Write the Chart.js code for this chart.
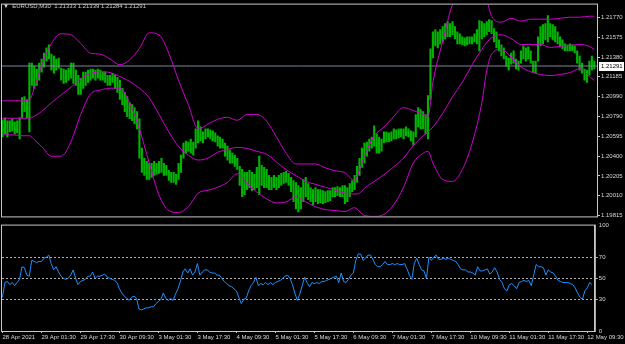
<!DOCTYPE html>
<html>
<head>
<meta charset="utf-8">
<script src="https://cdn.jsdelivr.net/npm/chart.js@4.4.0/dist/chart.umd.min.js"></script>
<style>
  html, body { margin: 0; padding: 0; background: #000; }
  #wrap { position: relative; width: 625px; height: 344px; background: #000; overflow: hidden; }
  #price { position: absolute; left: 0; top: 0; }
  #rsiChart { position: absolute; left: 0; top: 221px; }
  #caption { position: absolute; left: 3px; top: 3px; color: #d0d0d0; font: 6px "Liberation Sans", sans-serif; white-space: pre; }
</style>
</head>
<body>
<div id="wrap">
  <canvas id="price" width="625" height="221"></canvas>
  <canvas id="rsiChart" width="625" height="123"></canvas>
  <div id="caption">▼  EURUSD,M30  1.21333 1.21339 1.21284 1.21291</div>
</div>
<script>
// x axis: one entry per hour, a label every 16 hours
const timeLabels = ['28 Apr 2021', '29 Apr 01:30', '29 Apr 17:30', '30 Apr 09:30', '3 May 01:30', '3 May 17:30',
  '4 May 09:30', '5 May 01:30', '5 May 17:30', '6 May 09:30', '7 May 01:30', '7 May 17:30',
  '10 May 09:30', '11 May 01:30', '11 May 17:30', '12 May 09:30'];
const priceTicks = [1.19815, 1.20010, 1.20205, 1.20400, 1.20595, 1.20790, 1.20990, 1.21185, 1.21380, 1.21575, 1.21770];
const rsiTicks = [0, 30, 50, 70, 100];
const rsiLevels = [30, 50, 70];
const lastPrice = 1.21291;

const highs = [
  1.2076, 1.2078, 1.2075, 1.2075, 1.2077, 1.2074, 1.2075, 1.2078, 1.2098, 1.2099,
  1.2096, 1.2132, 1.2132, 1.2129, 1.2126, 1.2132, 1.2136, 1.2142, 1.2147, 1.2150,
  1.2141, 1.2139, 1.2136, 1.2137, 1.2127, 1.2126, 1.2125, 1.2127, 1.2132, 1.2132,
  1.2125, 1.2120, 1.2117, 1.2123, 1.2123, 1.2125, 1.2126, 1.2126, 1.2125, 1.2126,
  1.2125, 1.2123, 1.2123, 1.2120, 1.2120, 1.2122, 1.2120, 1.2118, 1.2115, 1.2107,
  1.2103, 1.2099, 1.2093, 1.2091, 1.2088, 1.2084, 1.2077, 1.2048, 1.2038, 1.2035,
  1.2033, 1.2033, 1.2035, 1.2033, 1.2035, 1.2038, 1.2033, 1.2031, 1.2026, 1.2024,
  1.2024, 1.2022, 1.2033, 1.2041, 1.2053, 1.2055, 1.2054, 1.2057, 1.2054, 1.2067,
  1.2075, 1.2069, 1.2064, 1.2067, 1.2067, 1.2066, 1.2065, 1.2063, 1.2060, 1.2059,
  1.2057, 1.2053, 1.2050, 1.2046, 1.2043, 1.2041, 1.2038, 1.2030, 1.2027, 1.2024,
  1.2024, 1.2026, 1.2024, 1.2022, 1.2029, 1.2040, 1.2031, 1.2029, 1.2027, 1.2021,
  1.2019, 1.2021, 1.2019, 1.2021, 1.2023, 1.2024, 1.2025, 1.2023, 1.2019, 1.2016,
  1.2014, 1.2011, 1.2009, 1.2017, 1.2019, 1.2013, 1.2009, 1.2007, 1.2009, 1.2007,
  1.2007, 1.2006, 1.2005, 1.2006, 1.2006, 1.2009, 1.2009, 1.2010, 1.2009, 1.2011,
  1.2011, 1.2009, 1.2013, 1.2016, 1.2021, 1.2030, 1.2038, 1.2048, 1.2053, 1.2054,
  1.2057, 1.2059, 1.2070, 1.2062, 1.2059, 1.2057, 1.2064, 1.2064, 1.2063, 1.2064,
  1.2067, 1.2066, 1.2067, 1.2067, 1.2067, 1.2069, 1.2067, 1.2065, 1.2064, 1.2081,
  1.2088, 1.2086, 1.2084, 1.2081, 1.2100, 1.2146, 1.2163, 1.2165, 1.2163, 1.2165,
  1.2168, 1.2171, 1.2173, 1.2171, 1.2173, 1.2168, 1.2163, 1.2161, 1.2158, 1.2157,
  1.2158, 1.2158, 1.2158, 1.2161, 1.2165, 1.2174, 1.2173, 1.2171, 1.2173, 1.2175,
  1.2174, 1.2166, 1.2163, 1.2155, 1.2150, 1.2147, 1.2139, 1.2137, 1.2142, 1.2144,
  1.2136, 1.2134, 1.2144, 1.2149, 1.2147, 1.2148, 1.2144, 1.2134, 1.2134, 1.2158,
  1.2168, 1.2170, 1.2171, 1.2179, 1.2171, 1.2170, 1.2168, 1.2163, 1.2158, 1.2155,
  1.2151, 1.2150, 1.2151, 1.2150, 1.2149, 1.2144, 1.2139, 1.2132, 1.2126, 1.2125,
  1.2134, 1.2139, 1.2134
];
const lows = [
  1.2059, 1.2062, 1.2059, 1.2064, 1.2065, 1.2062, 1.2063, 1.2057, 1.2078, 1.2084,
  1.2078, 1.2064, 1.2110, 1.2107, 1.2110, 1.2115, 1.2123, 1.2128, 1.2134, 1.2136,
  1.2125, 1.2122, 1.2125, 1.2127, 1.2115, 1.2112, 1.2113, 1.2115, 1.2117, 1.2112,
  1.2110, 1.2101, 1.2101, 1.2107, 1.2110, 1.2113, 1.2115, 1.2117, 1.2115, 1.2117,
  1.2115, 1.2115, 1.2113, 1.2110, 1.2110, 1.2113, 1.2107, 1.2103, 1.2096, 1.2091,
  1.2084, 1.2079, 1.2077, 1.2075, 1.2072, 1.2067, 1.2038, 1.2024, 1.2021, 1.2017,
  1.2017, 1.2019, 1.2021, 1.2022, 1.2023, 1.2024, 1.2021, 1.2021, 1.2016, 1.2014,
  1.2014, 1.2012, 1.2017, 1.2024, 1.2038, 1.2043, 1.2045, 1.2043, 1.2041, 1.2048,
  1.2053, 1.2055, 1.2053, 1.2057, 1.2059, 1.2057, 1.2055, 1.2054, 1.2050, 1.2048,
  1.2048, 1.2040, 1.2036, 1.2033, 1.2033, 1.2030, 1.2027, 1.2011, 1.2000, 1.2002,
  1.2007, 1.2009, 1.2006, 1.2007, 1.2009, 1.2002, 1.2011, 1.2009, 1.2009, 1.2007,
  1.2007, 1.2009, 1.2007, 1.2009, 1.2011, 1.2013, 1.2014, 1.2011, 1.2005, 1.1995,
  1.1988, 1.1985, 1.1988, 1.1995, 1.2000, 1.1997, 1.1995, 1.1992, 1.1995, 1.1993,
  1.1994, 1.1993, 1.1994, 1.1995, 1.1996, 1.2000, 1.2000, 1.2001, 1.2000, 1.2000,
  1.1993, 1.1995, 1.2000, 1.2005, 1.2007, 1.2014, 1.2021, 1.2029, 1.2033, 1.2040,
  1.2045, 1.2048, 1.2050, 1.2043, 1.2043, 1.2045, 1.2053, 1.2054, 1.2054, 1.2055,
  1.2057, 1.2057, 1.2058, 1.2059, 1.2057, 1.2060, 1.2059, 1.2055, 1.2051, 1.2059,
  1.2069, 1.2067, 1.2067, 1.2062, 1.2057, 1.2096, 1.2137, 1.2149, 1.2147, 1.2151,
  1.2153, 1.2156, 1.2158, 1.2158, 1.2160, 1.2156, 1.2151, 1.2151, 1.2150, 1.2149,
  1.2150, 1.2151, 1.2151, 1.2153, 1.2151, 1.2144, 1.2156, 1.2158, 1.2160, 1.2163,
  1.2161, 1.2153, 1.2147, 1.2144, 1.2139, 1.2136, 1.2129, 1.2125, 1.2131, 1.2132,
  1.2126, 1.2125, 1.2132, 1.2136, 1.2134, 1.2136, 1.2132, 1.2123, 1.2122, 1.2134,
  1.2149, 1.2151, 1.2155, 1.2153, 1.2158, 1.2155, 1.2153, 1.2151, 1.2148, 1.2146,
  1.2144, 1.2144, 1.2144, 1.2144, 1.2142, 1.2132, 1.2125, 1.2122, 1.2115, 1.2113,
  1.2120, 1.2125, 1.2126
];

// Bollinger bands, read every few hours
const bandHours = [0, 4, 8, 11, 13, 16, 20, 24, 28, 32, 36, 40, 44, 48, 52, 56, 60, 64, 68, 72,
  76, 80, 84, 88, 92, 96, 100, 104, 108, 112, 116, 120, 124, 128, 132, 136, 140, 144, 146, 148,
  152, 156, 160, 164, 168, 172, 174, 176, 180, 184, 188, 192, 196, 198, 200, 204, 208, 212, 216, 220,
  224, 228, 232, 236, 240, 242];
const upperBand = [1.20947, 1.20947, 1.20947, 1.20957, 1.21072, 1.21293, 1.21514, 1.21610, 1.21600, 1.21514,
  1.21418, 1.21408, 1.21360, 1.21303, 1.21351, 1.21466, 1.21619, 1.21600, 1.21418, 1.21149,
  1.20909, 1.20669, 1.20717, 1.20765, 1.20784, 1.20755, 1.20813, 1.20813, 1.20746, 1.20592,
  1.20429, 1.20323, 1.20323, 1.20323, 1.20285, 1.20256, 1.20237, 1.20160, 1.20266, 1.20400,
  1.20602, 1.20688, 1.20794, 1.20880, 1.20851, 1.20813, 1.20794, 1.21130, 1.21533, 1.21898,
  1.22032, 1.22080, 1.22032, 1.21946, 1.21783, 1.21725, 1.21763, 1.21735, 1.21754, 1.21754,
  1.21754, 1.21763, 1.21773, 1.21773, 1.21783, 1.21783];
const middleBand = [1.20775, 1.20775, 1.20775, 1.20775, 1.20794, 1.20842, 1.20928, 1.21005, 1.21082, 1.21168,
  1.21216, 1.21235, 1.21226, 1.21187, 1.21139, 1.21072, 1.20976, 1.20813, 1.20640, 1.20496,
  1.20410, 1.20362, 1.20381, 1.20439, 1.20467, 1.20487, 1.20477, 1.20448, 1.20419, 1.20343,
  1.20266, 1.20208, 1.20151, 1.20122, 1.20093, 1.20064, 1.20035, 1.20026, 1.20035, 1.20083,
  1.20151, 1.20218, 1.20295, 1.20381, 1.20506, 1.20602, 1.20640, 1.20688, 1.20823, 1.20986,
  1.21130, 1.21303, 1.21456, 1.21523, 1.21571, 1.21600, 1.21562, 1.21504, 1.21504, 1.21504,
  1.21475, 1.21485, 1.21495, 1.21504, 1.21485, 1.21456];
const lowerBand = [1.20611, 1.20611, 1.20602, 1.20602, 1.20563, 1.20496, 1.20400, 1.20400, 1.20544, 1.20813,
  1.21015, 1.21053, 1.21072, 1.21072, 1.20928, 1.20669, 1.20333, 1.20016, 1.19863, 1.19843,
  1.19901, 1.20035, 1.20064, 1.20093, 1.20141, 1.20227, 1.20131, 1.20045, 1.19978, 1.19939,
  1.19949, 1.19997, 1.19949, 1.19901, 1.19872, 1.19863, 1.19853, 1.19891, 1.19853, 1.19815,
  1.19805, 1.19824, 1.19920, 1.20093, 1.20333, 1.20429, 1.20448, 1.20333, 1.20170, 1.20151,
  1.20266, 1.20525, 1.20928, 1.21245, 1.21408, 1.21456, 1.21379, 1.21283, 1.21235, 1.21207,
  1.21197, 1.21207, 1.21226, 1.21264, 1.21187, 1.21149];

const rsi = [
  32, 46, 47, 44, 46, 43, 46, 49, 61, 60,
  53, 52, 67, 66, 65, 66, 66, 69, 70, 72,
  64, 58, 61, 56, 52, 50, 49, 50, 53, 58,
  50, 44, 47, 48, 49, 52, 52, 56, 50, 52,
  52, 53, 54, 51, 50, 49, 48, 46, 40, 36,
  33, 31, 29, 32, 33, 31, 21, 20, 21, 22,
  22, 23, 23, 26, 28, 30, 36, 31, 29, 31,
  29, 35, 40, 47, 56, 59, 55, 59, 53, 56,
  64, 53, 56, 58, 58, 56, 55, 55, 53, 53,
  50, 47, 45, 43, 42, 40, 38, 32, 26, 30,
  31, 38, 43, 46, 51, 43, 45, 44, 46, 44,
  46, 44, 46, 47, 48, 50, 52, 53, 50, 44,
  36, 29, 35, 43, 51, 46, 42, 46, 45, 46,
  45, 47, 47, 48, 49, 50, 51, 52, 46, 55,
  47, 46, 49, 53, 55, 67, 73, 73, 67, 69,
  72, 72, 68, 63, 61, 61, 63, 66, 63, 63,
  64, 63, 64, 63, 63, 64, 59, 53, 49, 64,
  69, 63, 58, 57, 50, 70, 67, 70, 72, 68,
  68, 69, 68, 69, 68, 67, 66, 63, 59, 58,
  58, 56, 56, 55, 53, 61, 57, 57, 58, 59,
  54, 56, 60, 56, 49, 46, 40, 38, 44, 45,
  43, 40, 46, 47, 48, 47, 48, 43, 53, 63,
  61, 61, 60, 53, 58, 56, 55, 52, 48, 47,
  46, 46, 46, 45, 44, 41, 36, 32, 30, 38,
  41, 46, 44
];

const FONT = { family: '"Liberation Sans", sans-serif', size: 6 };
const AXIS = '#c8c8c8';
const TEXT = '#d8d8d8';
const BAND = '#d000d0';
const X_MIN = -0.2;
const X_MAX = 243.1;

// gray frame round each panel, as in the terminal
const framePlugin = {
    id: 'frame',
    afterDraw(chart) {
        const { ctx, chartArea: a } = chart;
        ctx.save();
        ctx.strokeStyle = AXIS;
        ctx.lineWidth = 1;
        ctx.strokeRect(a.left - 0.5, a.top - 0.5, a.right - a.left + 1, a.bottom - a.top + 1);
        ctx.restore();
    }
};

// white box with the last price on the axis
const priceTagPlugin = {
    id: 'priceTag',
    afterDraw(chart) {
        const { ctx, chartArea: a } = chart;
        const y = Math.round(chart.scales.y.getPixelForValue(lastPrice));
        ctx.save();
        ctx.fillStyle = '#ffffff';
        ctx.fillRect(a.right + 2, y - 4, chart.width - a.right - 3, 9);
        ctx.fillStyle = '#000000';
        ctx.font = FONT.size + 'px ' + FONT.family;
        ctx.textBaseline = 'middle';
        ctx.fillText(lastPrice.toFixed(5), a.right + 4, y + 0.5);
        ctx.restore();
    }
};

const bandLine = (values, label) => ({
    type: 'line',
    label: label,
    data: bandHours.map((h, i) => ({ x: h, y: values[i] })),
    borderColor: BAND,
    borderWidth: 1,
    pointRadius: 0,
    cubicInterpolationMode: 'monotone',
    order: 1
});

new Chart(document.getElementById('price'), {
    type: 'bar',
    data: {
        datasets: [
            bandLine(upperBand, 'Upper'),
            bandLine(middleBand, 'Middle'),
            bandLine(lowerBand, 'Lower'),
            {
                type: 'line',
                label: 'Last',
                data: [{ x: X_MIN, y: lastPrice }, { x: X_MAX, y: lastPrice }],
                borderColor: '#778899',
                borderWidth: 1,
                pointRadius: 0,
                order: 2
            },
            {
                type: 'bar',
                label: 'EURUSD',
                data: highs.map((h, i) => ({ x: i, y: [lows[i], h] })),
                backgroundColor: '#00b400',
                barThickness: 1.5,
                grouped: false,
                order: 3
            }
        ]
    },
    options: {
        responsive: false,
        animation: false,
        devicePixelRatio: 1,
        layout: { padding: { left: 2, top: 2, right: 0, bottom: 1 } },
        plugins: { legend: { display: false }, tooltip: { enabled: false } },
        scales: {
            x: { type: 'linear', min: X_MIN, max: X_MAX, offset: false, display: false },
            y: {
                position: 'right',
                min: 1.19805,
                max: 1.21898,
                afterBuildTicks: s => { s.ticks = priceTicks.map(v => ({ value: v })); },
                afterFit: s => { s.width = 28; },
                ticks: { color: TEXT, font: FONT, padding: 1, callback: v => v.toFixed(5) },
                grid: { drawOnChartArea: false, tickLength: 3, color: AXIS },
                border: { color: AXIS }
            }
        }
    },
    plugins: [framePlugin, priceTagPlugin]
});

new Chart(document.getElementById('rsiChart'), {
    type: 'line',
    data: {
        datasets: [{
            label: 'RSI',
            data: rsi.map((v, i) => ({ x: i, y: v })),
            borderColor: '#1e90ff',
            borderWidth: 1,
            pointRadius: 0
        }]
    },
    options: {
        responsive: false,
        animation: false,
        devicePixelRatio: 1,
        layout: { padding: { left: 2, top: 2, right: 0, bottom: 0 } },
        plugins: { legend: { display: false }, tooltip: { enabled: false } },
        scales: {
            x: {
                type: 'linear',
                min: X_MIN,
                max: X_MAX,
                afterBuildTicks: s => { s.ticks = timeLabels.map((_, i) => ({ value: i * 16 })); },
                afterFit: s => { s.height = 13; },
                ticks: {
                    color: TEXT, font: FONT, padding: 1, align: 'start',
                    autoSkip: false, maxRotation: 0,
                    callback: (v, i) => timeLabels[i]
                },
                grid: { drawOnChartArea: false, tickLength: 2, color: AXIS },
                border: { color: AXIS }
            },
            y: {
                position: 'right',
                min: 0,
                max: 100,
                afterBuildTicks: s => { s.ticks = rsiTicks.map(v => ({ value: v })); },
                afterFit: s => { s.width = 28; },
                ticks: { color: TEXT, font: FONT, padding: 1 },
                grid: {
                    tickLength: 3,
                    color: c => rsiLevels.includes(c.tick.value) ? '#b0b0b0' : 'rgba(0,0,0,0)'
                },
                border: { color: AXIS, dash: [2, 2] }
            }
        }
    },
    plugins: [framePlugin]
});
</script>
</body>
</html>
